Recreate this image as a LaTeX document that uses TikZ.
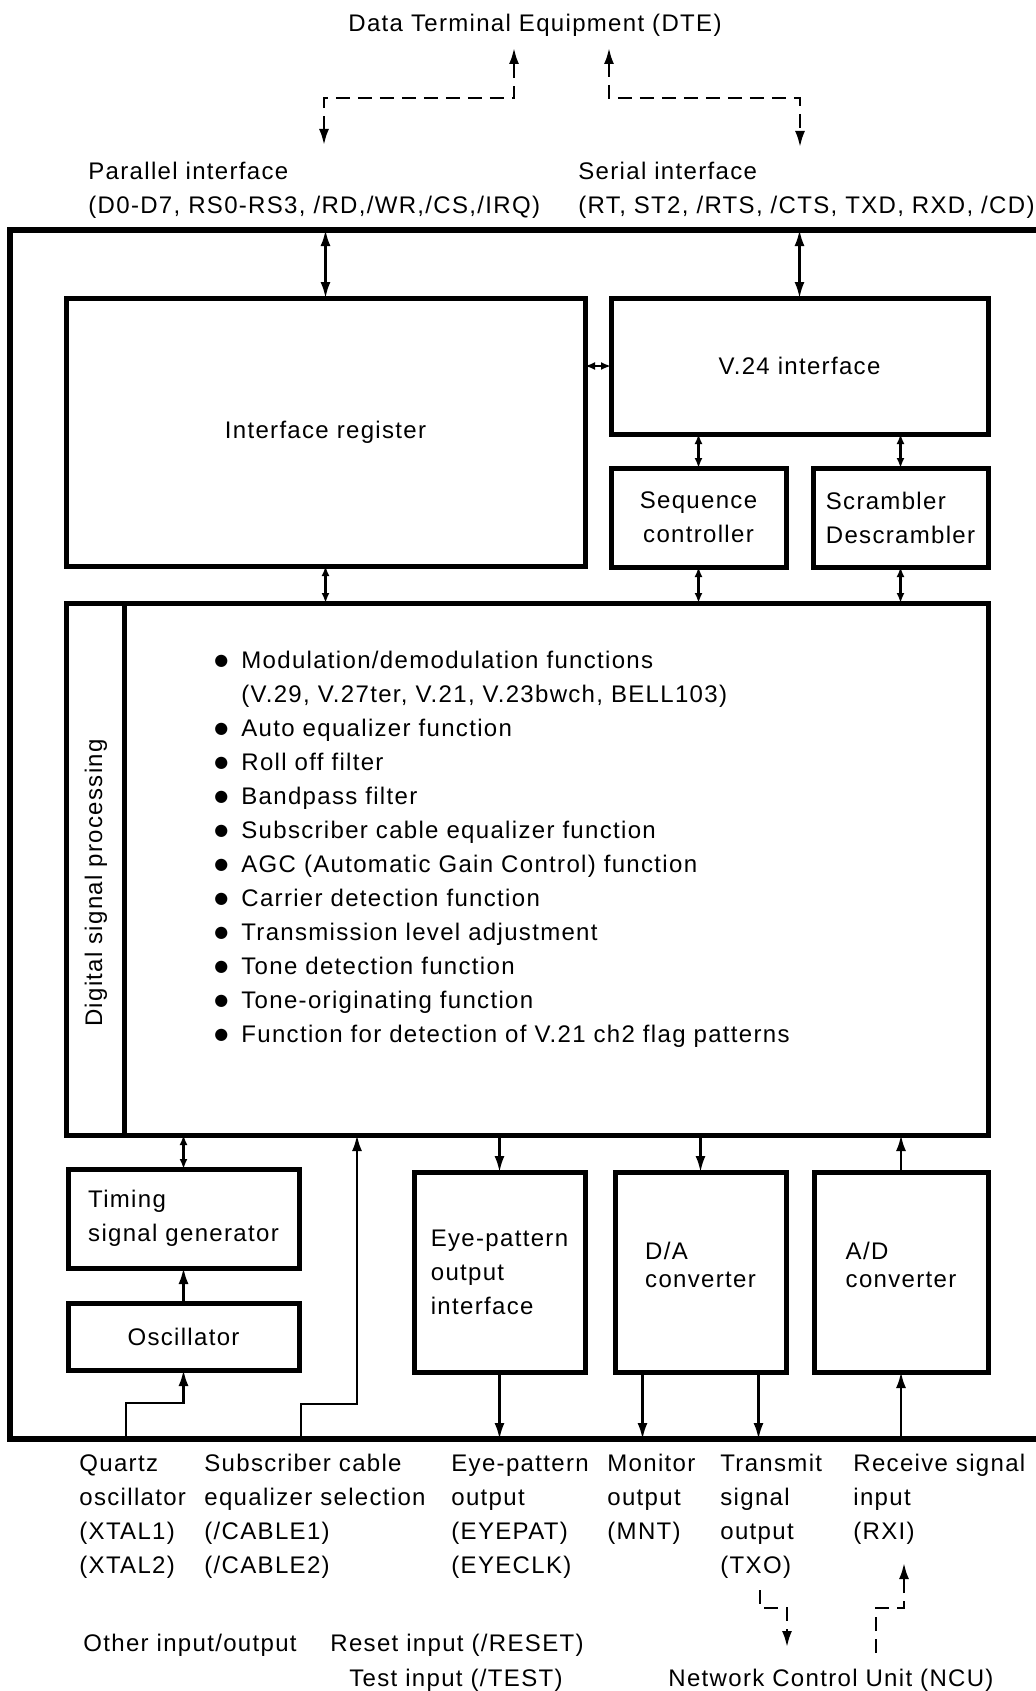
\documentclass[tikz,border=0pt]{standalone}
\usepackage{fontspec}
\setmainfont{Liberation Sans}[LetterSpace=5.5]
\newfontfamily\dotfont{DejaVu Sans}
\usetikzlibrary{arrows.meta,positioning}

\newcommand{\rows}[1]{\begin{tabular}[t]{@{}l@{}}#1\end{tabular}}
\newcommand{\dspitem}[1]{\makebox[13.5pt][l]{\raisebox{1.2pt}{\dotfont\fontsize{8}{9}\selectfont ●}}#1}

\begin{document}
\begin{tikzpicture}[
  x=0.5pt, y=-0.5pt,
  font=\fontsize{12}{17}\selectfont,
  box/.style={draw, line width=2.5pt, inner sep=0pt, outer sep=0pt, align=left},
  lbl/.style={inner sep=0pt, anchor=base west},
  arr/.style={line width=1.2pt, -{Latex[length=8pt,width=5pt]}},
  dbl/.style={line width=1.2pt, {Latex[length=8pt,width=5pt]}-{Latex[length=8pt,width=5pt]}},
  sdbl/.style={line width=1.2pt, {Latex[length=5pt,width=4pt]}-{Latex[length=5pt,width=4pt]}},
  dline/.style={line width=1.3pt, dash pattern=on 7pt off 4pt},
  chipedge/.style={line width=3pt}
]
  \path[fill=white, use as bounding box] (0,0) rectangle (1036,1691);

  % chip outline (cut off at the right)
  \coordinate (edgetop) at (10,230);
  \coordinate (edgebot) at (10,1439);
  \draw[chipedge] (1040,230) -- (edgetop) -- (edgebot) -- (1040,1439);

  % upper blocks
  \node[box, minimum width=259.5pt, minimum height=134pt, anchor=north west] (ireg) at (66,298) {Interface register};
  \node[box, minimum width=188.5pt, minimum height=68pt,
    right=13pt of ireg.north east, anchor=north west] (v24) {V.24 interface};
  \node[box, align=center, minimum width=87.5pt, minimum height=49.5pt,
    below=17pt of v24.south west, anchor=north west] (seq) {Sequence\\controller};
  \node[box, minimum width=87.5pt, minimum height=49.5pt, right=13.5pt of seq] (scr) {Scrambler\\Descrambler};

  % digital signal processing
  \node[box, minimum width=461pt, minimum height=266pt,
    below=18.5pt of ireg.south west, anchor=north west] (dsp) {};
  \draw[line width=2.5pt] ([xshift=29pt]dsp.north west) -- ([xshift=29pt]dsp.south west);
  \node[rotate=90] (dsplabel) at (96,883) {Digital signal processing};
  \node[lbl] (funcs) at (214,668) {\rows{%
    \dspitem{Modulation/demodulation functions}\\
    \hspace*{13.5pt}(V.29, V.27ter, V.21, V.23bwch, BELL103)\\
    \dspitem{Auto equalizer function}\\
    \dspitem{Roll off filter}\\
    \dspitem{Bandpass filter}\\
    \dspitem{Subscriber cable equalizer function}\\
    \dspitem{AGC (Automatic Gain Control) function}\\
    \dspitem{Carrier detection function}\\
    \dspitem{Transmission level adjustment}\\
    \dspitem{Tone detection function}\\
    \dspitem{Tone-originating function}\\
    \dspitem{Function for detection of V.21 ch2 flag patterns}}};

  % lower blocks
  \node[box, minimum width=115.5pt, minimum height=49.5pt,
    below=17pt of dsp.south west, anchor=north west, xshift=1pt] (tim) {Timing\\signal generator};
  \node[box, minimum width=115.5pt, minimum height=33.5pt, below=17.5pt of tim] (osc) {Oscillator};
  \node[box, minimum width=85.5pt, minimum height=100pt, anchor=north west] (eye) at (414,1172)
    {Eye-pattern\\output\\interface};
  \node[box, minimum width=85.5pt, minimum height=100pt, right=15pt of eye] (da)
    {D/A\\[-3pt]converter\\[-10pt]\mbox{}};
  \node[box, minimum width=87pt, minimum height=100pt, right=14pt of da] (ad)
    {A/D\\[-3pt]converter\\[-10pt]\mbox{}};

  % outside labels
  \node[inner sep=0pt, anchor=base] (dte) at (535,32) {Data Terminal Equipment (DTE)};
  \node[lbl] (par) at (88,179) {\rows{Parallel interface\\(D0-D7, RS0-RS3, /RD,/WR,/CS,/IRQ)}};
  \node[lbl] (ser) at (578,179) {\rows{Serial interface\\(RT, ST2, /RTS, /CTS, TXD, RXD, /CD)}};
  \node[lbl] (quartz) at (79,1471) {\rows{Quartz\\oscillator\\(XTAL1)\\(XTAL2)}};
  \node[lbl] (cablelbl) at (204,1471) {\rows{Subscriber cable\\equalizer selection\\(/CABLE1)\\(/CABLE2)}};
  \node[lbl] (eyelbl) at (451,1471) {\rows{Eye-pattern\\output\\(EYEPAT)\\(EYECLK)}};
  \node[lbl] (mnt) at (607,1471) {\rows{Monitor\\output\\(MNT)}};
  \node[lbl] (txo) at (720,1471) {\rows{Transmit\\signal\\output\\(TXO)}};
  \node[lbl] (rxi) at (853,1471) {\rows{Receive signal\\input\\(RXI)}};
  \node[lbl] (other) at (83,1651) {Other input/output};
  \node[lbl] (reset) at (330,1651) {Reset input (/RESET)};
  \node[lbl] (test) at (349,1686) {Test input (/TEST)};
  \node[lbl] (ncu) at (668,1686) {Network Control Unit (NCU)};

  % DTE links
  \coordinate (dtel) at (514,48);
  \coordinate (dter) at (609,48);
  \coordinate (lbend) at (514,98);
  \coordinate (rbend) at (800,98);
  \coordinate (parin) at (324,145);
  \coordinate (serin) at (800,147);
  \draw[dline, dbl] (parin) |- (lbend) -- (dtel);
  \draw[dline, dbl] (dter) |- (rbend) -- (serin);
  \draw[dbl] (ireg.north) -- (ireg.north |- edgetop);
  \draw[dbl] (v24.north) -- (v24.north |- edgetop);

  % internal links
  \draw[sdbl] (v24.west) -- (v24.west -| ireg.east);
  \draw[sdbl] (seq.north) -- (seq.north |- v24.south);
  \draw[sdbl] (scr.north) -- (scr.north |- v24.south);
  \draw[sdbl] (ireg.south) -- (ireg.south |- dsp.north);
  \draw[sdbl] (seq.south) -- (seq.south |- dsp.north);
  \draw[sdbl] (scr.south) -- (scr.south |- dsp.north);
  \draw[sdbl] (tim.north) -- (tim.north |- dsp.south);
  \draw[arr] (osc.north) -- (tim.south);
  \draw[arr] (eye.north |- dsp.south) -- (eye.north);
  \draw[arr] (da.north |- dsp.south) -- (da.north);
  \draw[arr] (ad.north) -- (ad.north |- dsp.south);

  % pins
  \coordinate (xtal) at (126,1439);
  \coordinate (cable) at (301,1439);
  \coordinate (cablebend) at (357,1404);
  \draw[arr] (xtal) |- ([yshift=-16.5pt]osc.south) -- (osc.south);
  \draw[arr] (cable) |- (cablebend) -- (cablebend |- dsp.south);
  \draw[arr] (eye.south) -- (eye.south |- edgebot);
  \draw[arr] ([xshift=-29pt]da.south) -- ([xshift=-29pt]da.south |- edgebot);
  \draw[arr] ([xshift=29pt]da.south) -- ([xshift=29pt]da.south |- edgebot);
  \draw[arr] (ad.south |- edgebot) -- (ad.south);

  % NCU links
  \coordinate (txstart) at (760,1590);
  \coordinate (txbend) at (760,1608);
  \coordinate (ncutx) at (787,1647);
  \coordinate (ncurx) at (876,1653);
  \coordinate (rxbend) at (876,1608);
  \coordinate (rxtip) at (904,1563);
  \draw[dline, arr] (txstart) -- (txbend) -| (ncutx);
  \draw[dline, arr] (ncurx) -- (rxbend) -| (rxtip);
\end{tikzpicture}
\end{document}
